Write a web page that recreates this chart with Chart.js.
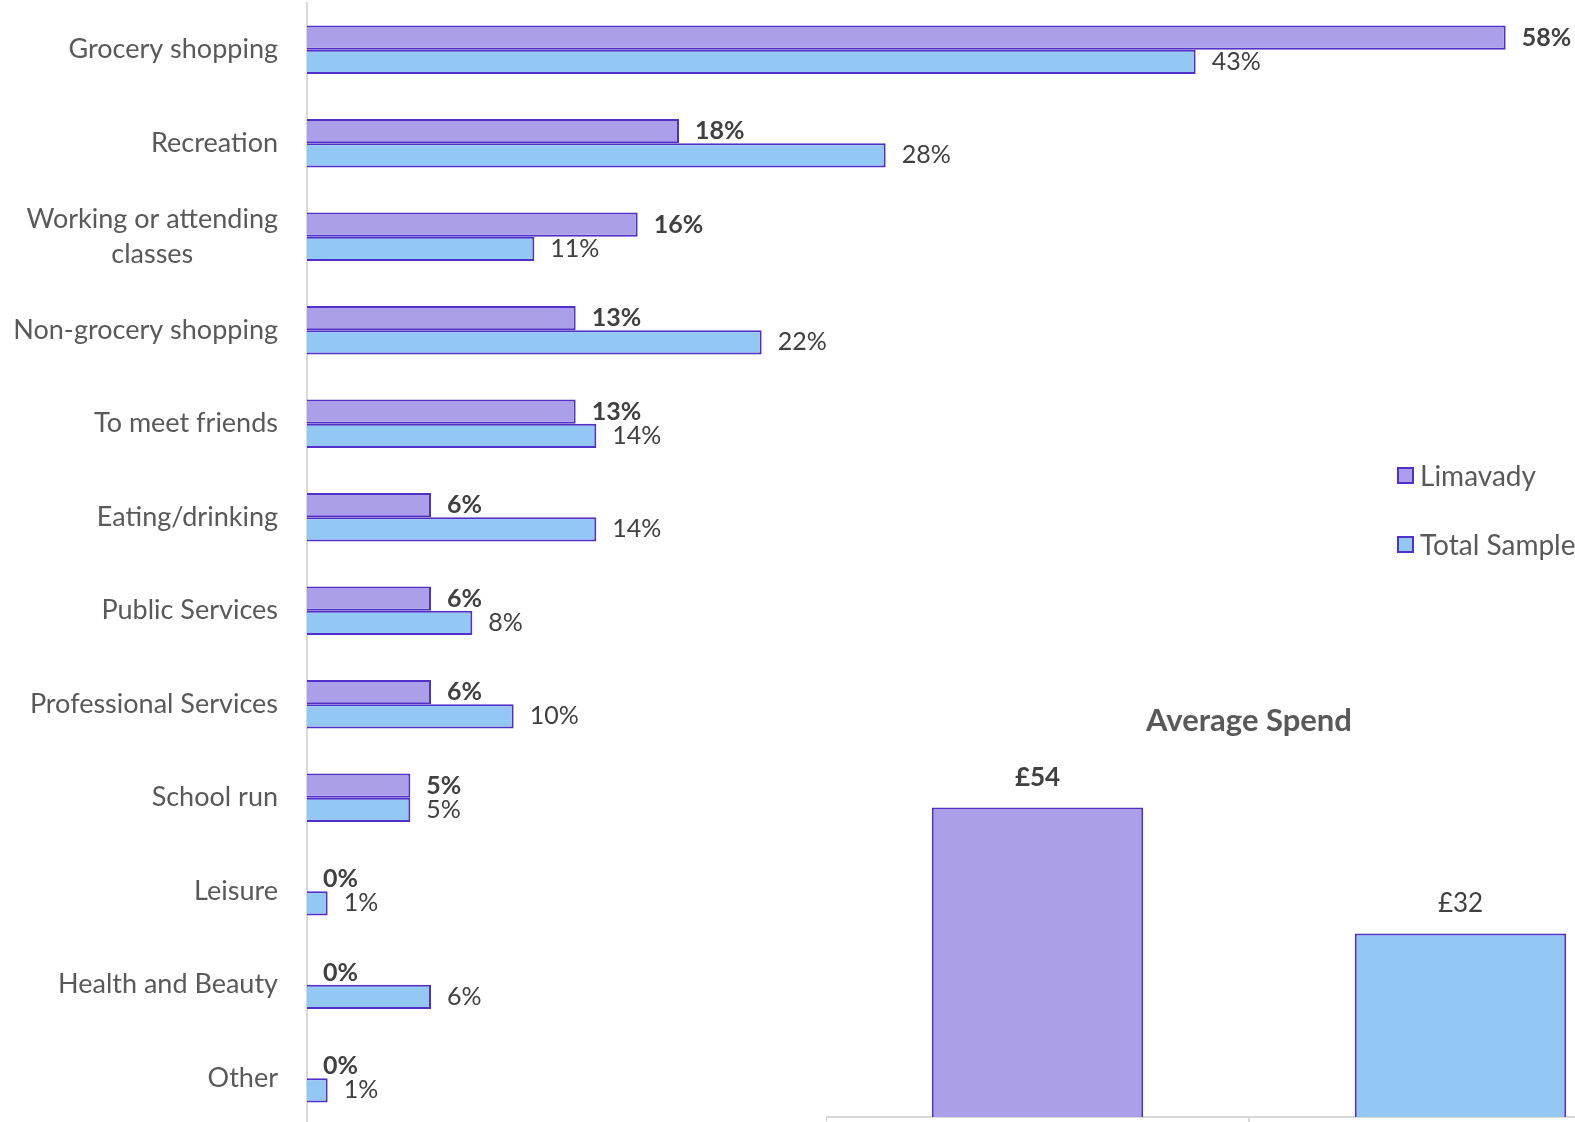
<!DOCTYPE html>
<html>
<head>
<meta charset="utf-8">
<script src="https://cdn.jsdelivr.net/npm/chart.js@4.4.1/dist/chart.umd.min.js"></script>
<style>
  html, body { margin: 0; padding: 0; background: #fff; overflow: hidden; }
  body { width: 1575px; height: 1122px; position: relative; font-family: Lato, sans-serif; }
  #purpose-chart { position: absolute; left: 0; top: 0; }
  #spend-chart { position: absolute; left: 826px; top: 690px; }
  #legend { position: absolute; left: 1397px; top: 458px; }
  .legend-item { display: flex; align-items: center; height: 34px; margin-bottom: 35px; color: #595959; font-size: 28px; white-space: nowrap; }
  .legend-box { width: 13px; height: 13px; border: 2px solid #5030c8; margin-right: 6px; }
</style>
</head>
<body>
<canvas id="purpose-chart" width="1575" height="1125"></canvas>
<canvas id="spend-chart" width="846" height="437"></canvas>
<div id="legend"></div>
<script>
// trip purpose, % of respondents
const categories = [
    "Grocery shopping", "Recreation", ["Working or attending", "classes"], "Non-grocery shopping",
    "To meet friends", "Eating/drinking", "Public Services", "Professional Services",
    "School run", "Leisure", "Health and Beauty", "Other"
];
const limavady = [58, 18, 16, 13, 13, 6, 6, 6, 5, 0, 0, 0];
const totalSample = [43, 28, 11, 22, 14, 14, 8, 10, 5, 1, 6, 1];

// average spend per trip, £
const spendLabels = ["Limavady", "Total Sample"];
const averageSpend = [54, 32];

const seriesNames = ["Limavady", "Total Sample"];
const fills = ["#ab9fe9", "#93c8f4"];
const edge = "#5030c8";
const textGrey = "#595959";
const labelGrey = "#404040";

// category names drawn by hand so two-line names stay centred on each other
const categoryLabels = {
    id: "categoryLabels",
    afterDraw(chart) {
        const ctx = chart.ctx;
        const yScale = chart.scales.y;
        const right = yScale.right - 29;
        ctx.save();
        ctx.font = "27px Lato";
        ctx.fillStyle = textGrey;
        ctx.textAlign = "center";
        ctx.textBaseline = "middle";
        categories.forEach((label, i) => {
            const lines = Array.isArray(label) ? label : [label];
            const width = Math.max(...lines.map(l => ctx.measureText(l).width));
            const y = yScale.getPixelForValue(i);
            lines.forEach((line, j) => {
                ctx.fillText(line, right - width / 2, y + (j - (lines.length - 1) / 2) * 35);
            });
        });
        ctx.restore();
    }
};

const barValueLabels = {
    id: "barValueLabels",
    afterDatasetsDraw(chart) {
        const ctx = chart.ctx;
        ctx.save();
        ctx.fillStyle = labelGrey;
        ctx.textBaseline = "middle";
        ctx.textAlign = "left";
        chart.data.datasets.forEach((ds, di) => {
            ctx.font = (di === 0 ? "bold " : "") + "25px Lato";
            chart.getDatasetMeta(di).data.forEach((bar, i) => {
                ctx.fillText(ds.data[i] + "%", bar.x + 16, bar.y);
            });
        });
        ctx.restore();
    }
};

new Chart(document.getElementById("purpose-chart"), {
    type: "bar",
    data: {
        labels: categories,
        datasets: [{
            label: seriesNames[0],
            data: limavady,
            backgroundColor: fills[0],
            borderColor: edge,
            borderWidth: 2
        }, {
            label: seriesNames[1],
            data: totalSample,
            backgroundColor: fills[1],
            borderColor: edge,
            borderWidth: 2
        }]
    },
    options: {
        indexAxis: "y",
        responsive: false,
        animation: false,
        categoryPercentage: 0.52,
        barPercentage: 1,
        layout: { padding: { top: 3, right: 28, bottom: 0, left: 0 } },
        plugins: { legend: { display: false }, tooltip: { enabled: false } },
        scales: {
            x: { display: false, min: 0, max: 60 },
            y: {
                grid: { display: false },
                border: { display: true, color: "#d9d9d9", width: 2 },
                ticks: { display: false },
                afterFit(scale) { scale.width = 307; }
            }
        }
    },
    plugins: [categoryLabels, barValueLabels]
});

const legend = document.getElementById("legend");
seriesNames.forEach((name, i) => {
    legend.innerHTML +=
        `<div class="legend-item">
        <span class="legend-box" style="background:${fills[i]}"></span>${name}
        </div>`;
});

const spendExtras = {
    id: "spendExtras",
    afterDatasetsDraw(chart) {
        const ctx = chart.ctx;
        ctx.save();
        ctx.textAlign = "center";
        ctx.textBaseline = "middle";
        ctx.fillStyle = textGrey;
        ctx.font = "bold 31px Lato";
        ctx.fillText("Average Spend", chart.width / 2, 31);
        ctx.fillStyle = labelGrey;
        chart.getDatasetMeta(0).data.forEach((bar, i) => {
            ctx.font = (i === 0 ? "bold " : "") + "26px Lato";
            ctx.fillText("£" + averageSpend[i], bar.x, bar.y - 30);
        });
        ctx.restore();
    }
};

new Chart(document.getElementById("spend-chart"), {
    type: "bar",
    data: {
        labels: spendLabels,
        datasets: [{
            data: averageSpend,
            backgroundColor: fills,
            borderColor: edge,
            borderWidth: 2
        }]
    },
    options: {
        responsive: false,
        animation: false,
        categoryPercentage: 1,
        barPercentage: 0.5,
        layout: { padding: 0 },
        plugins: { legend: { display: false }, tooltip: { enabled: false } },
        scales: {
            x: {
                grid: { display: true, drawOnChartArea: false, drawTicks: true, tickLength: 10, color: "#d9d9d9", lineWidth: 2 },
                border: { display: true, color: "#d9d9d9", width: 2 },
                ticks: { display: false }
            },
            y: { display: false, min: 0, max: 74.5 }
        }
    },
    plugins: [spendExtras]
});
</script>
</body>
</html>
